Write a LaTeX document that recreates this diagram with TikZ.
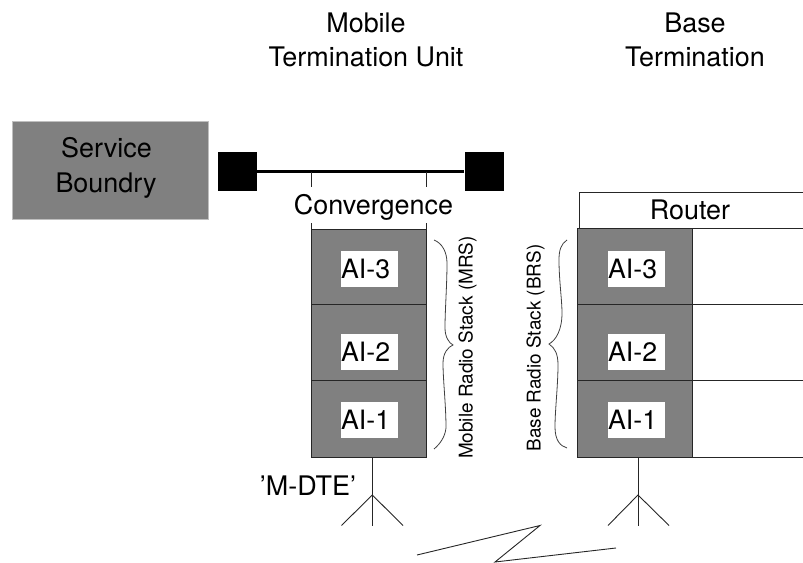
\documentclass[tikz,border=0pt]{standalone}
\usepackage{fontspec}
\setmainfont{TeX Gyre Heros}
\tikzset{
  x=0.75pt,y=-0.75pt,
  thinline/.style={line width=0.9pt*0.75,draw=black!85},
  cell/.style={thinline,fill=stackgray},
  lab/.style={font=\fontsize{20.2}{20}\selectfont,inner sep=0pt,text height=14.5pt,text depth=0pt},
  ailab/.style={fill=white,text width=42.5pt,align=left,minimum height=27pt,inner sep=0pt,font=\fontsize{20}{20}\selectfont,anchor=center},
  sidelab/.style={font=\fontsize{14.2}{14}\selectfont,rotate=90,inner sep=0pt},
  blacksq/.style={fill=black,draw=none,minimum width=29.5pt,minimum height=29.5pt,inner sep=0pt},
  brace/.style={line width=0.75*0.8pt,draw=black!75}
}
\definecolor{stackgray}{HTML}{808080}
\begin{document}
\begin{tikzpicture}
\useasboundingbox (0,0) rectangle (803,563);
% titles
\node[lab] (t1) at (366,23) {Mobile};
\node[lab] (t2) at (366,57) {Termination Unit};
\node[lab] (t3) at (695,23) {Base};
\node[lab] (t4) at (695,57) {Termination};
% service
\node[fill=stackgray,draw=black!25,line width=0.6pt,minimum width=147.5pt,minimum height=73.5pt,inner sep=0pt] (svc) at (110.5,170) {};
\node[lab] (svc1) at (106.5,148) {Service};
\node[lab] (svc2) at (106,183) {Boundry};
% black bar
\node[blacksq] (sqL) at (237.3,171.5) {};
\node[blacksq] (sqR) at (484.3,171.5) {};
\draw[line width=2.4pt] (sqL) -- (sqR);
% convergence
\coordinate (cl) at (311.5,172);
\coordinate (cr) at (426.5,172);
\coordinate (cl2) at (311.5,229.3);
\coordinate (cr2) at (426.5,229.3);
\draw[thinline] (cl) -- (cl2);
\draw[thinline] (cr) -- (cr2);
\node[lab,fill=white,minimum width=126pt,minimum height=27pt] (conv) at (373.5,205) {Convergence};
% mobile stack
\draw[cell] (311.5,229.3) rectangle (426.5,304.5);
\draw[cell] (311.5,304.5) rectangle (426.5,380.5);
\draw[cell] (311.5,380.5) rectangle (426.5,457.5);
\node[ailab] (m3) at (369.5,269) {AI-3};
\node[ailab] (m2) at (369.5,352) {AI-2};
\node[ailab] (m1) at (369.5,420) {AI-1};
% base stack
\draw[thinline] (579,192) rectangle (820,228.7);
\node[lab] (router) at (690,210) {Router};
\draw[thinline] (692,228.7) rectangle (820,304.5);
\draw[thinline] (692,304.5) rectangle (820,380.5);
\draw[thinline] (692,380.5) rectangle (820,457.5);
\draw[cell] (577,228.7) rectangle (692,304.5);
\draw[cell] (577,304.5) rectangle (692,380.5);
\draw[cell] (577,380.5) rectangle (692,457.5);
\node[ailab] (b3) at (636.5,269) {AI-3};
\node[ailab] (b2) at (636.5,352) {AI-2};
\node[ailab] (b1) at (636.5,420) {AI-1};
% side labels
\node[sidelab] (mrs) at (467.5,347.5) {Mobile Radio Stack (MRS)};
\node[sidelab] (brs) at (535.5,348) {Base Radio Stack (BRS)};
% braces
\draw[brace] (434,240) .. controls (442,243) and (447,252) .. (447,263)
  .. controls (447,285) and (445,310) .. (445,328)
  .. controls (445,337) and (449,343) .. (453,345)
  .. controls (448,347) and (443,353) .. (443,363)
  .. controls (443,380) and (446,405) .. (446,428)
  .. controls (445,437) and (440,444) .. (434,449);
\draw[brace] (567,240) .. controls (561,244) and (559,250) .. (559,260)
  .. controls (559,280) and (562,300) .. (562,313)
  .. controls (562,330) and (556,340) .. (549,344)
  .. controls (555,348) and (558,354) .. (558,365)
  .. controls (558,385) and (555,410) .. (555,427)
  .. controls (555,440) and (560,446) .. (567,448);
% antennas
\coordinate (ma) at (372.3,495);
\coordinate (mb) at (372.3,525.5);
\coordinate (mtop) at (372.3,457.5);
\draw[thinline] (mtop) -- (mb);
\draw[thinline] (341.5,525.5) -- (ma) -- (403,525.5);
\coordinate (ba) at (638,495);
\coordinate (bb) at (638,525.5);
\coordinate (btop) at (638,457.5);
\draw[thinline] (btop) -- (bb);
\draw[thinline] (608,525.5) -- (ba) -- (669,525.5);
\node[lab] (mdte) at (308,486) {’M-DTE’};
% zigzag
\coordinate (z1) at (417,555);
\coordinate (z2) at (540,525.5);
\coordinate (z3) at (495,562);
\coordinate (z4) at (616,548);
\draw[thinline] (z1) -- (z2) -- (z3) -- (z4);
\end{tikzpicture}
\end{document}
